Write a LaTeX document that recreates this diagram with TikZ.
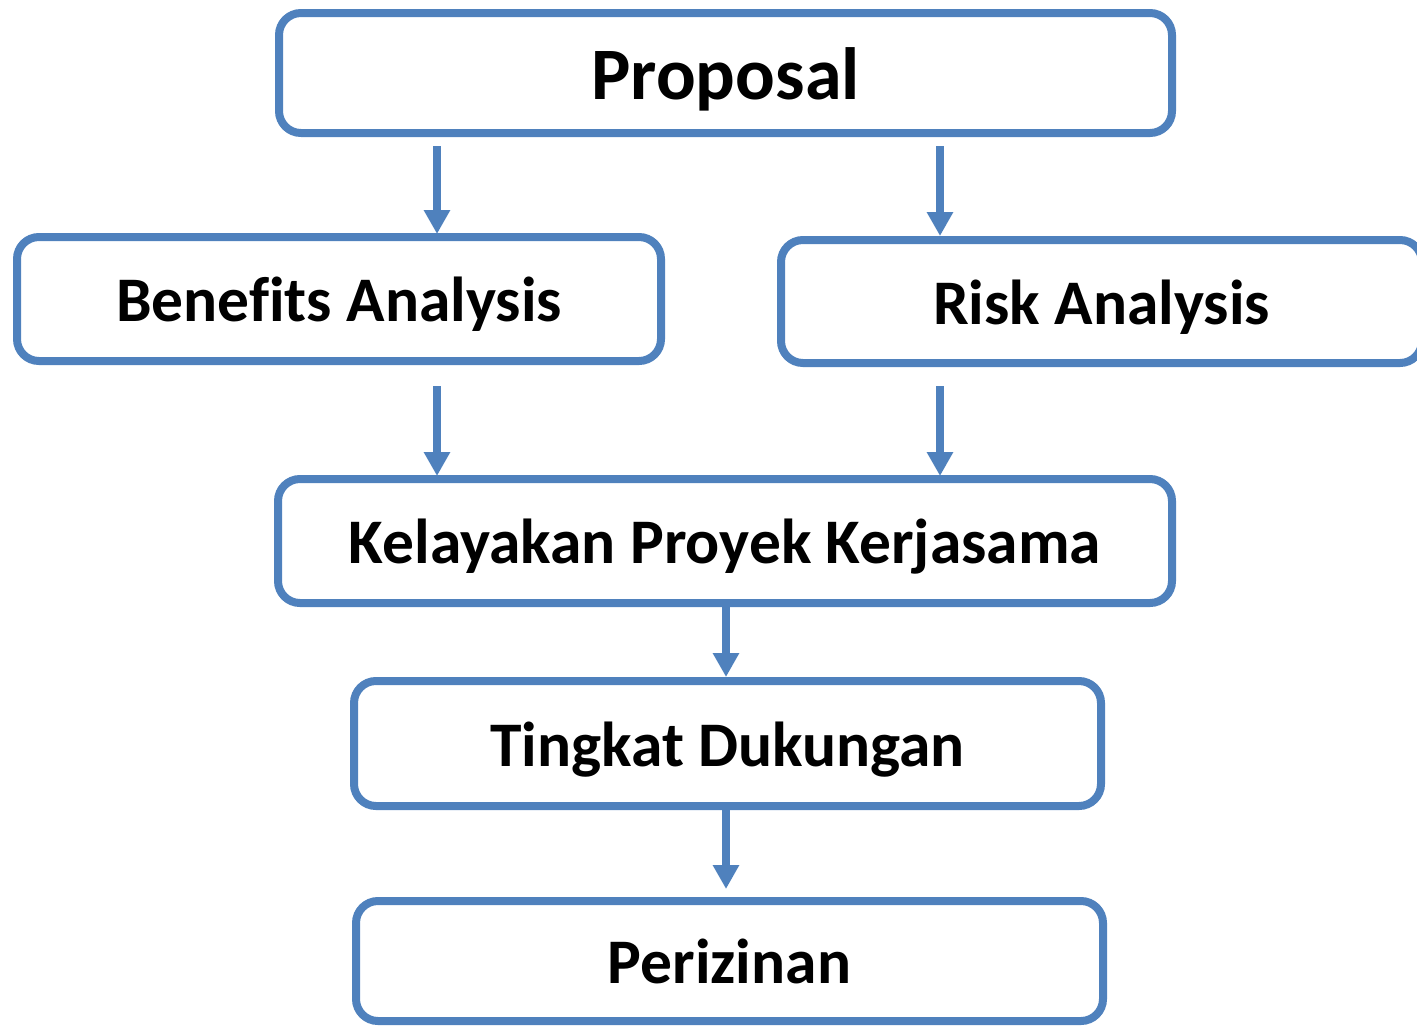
\documentclass[tikz,border=0pt]{standalone}
\usepackage{fontspec}
\setmainfont[Ligatures=NoCommon]{Carlito}
\usetikzlibrary{arrows.meta}
\definecolor{boxblue}{HTML}{4F81BD}
\begin{document}
\begin{tikzpicture}[x=1pt,y=-1pt,
  box/.style={draw=boxblue,line width=8pt,rounded corners=22pt,inner sep=0pt,
    font=\fontsize{63.5}{70}\selectfont\bfseries,text height=45.9pt,text depth=0pt},
  bigbox/.style={box,font=\fontsize{74}{80}\selectfont\bfseries,text height=52.6pt},
  conn/.style={draw=boxblue,line width=8pt,-{Triangle[width=25pt,length=24pt]}}]
\useasboundingbox (0,0) rectangle (1417,1026);
\node[bigbox,minimum width=893pt,minimum height=120pt] (prop) at (725.5,73) {Proposal};
\node[box,minimum width=644pt,minimum height=124pt] (ben) at (339,299) {Benefits Analysis};
\node[box,minimum width=641pt,minimum height=123pt] (risk) at (1101.5,301.5) {Risk Analysis};
\node[box,minimum width=894pt,minimum height=124pt] (kel) at (725,541) {Kelayakan Proyek Kerjasama};
\node[box,minimum width=747pt,minimum height=125pt] (ting) at (727.5,743.5) {Tingkat Dukungan};
\node[box,minimum width=747pt,minimum height=120pt] (per) at (729.5,961) {Perizinan};
\draw[conn,shorten <=9pt,shorten >=-1pt] (prop.south -| 437,0) -- (ben.north -| 437,0);
\draw[conn,shorten <=9pt,shorten >=0pt] (prop.south -| 940,0) -- (risk.north -| 940,0);
\draw[conn,shorten <=21pt,shorten >=-1pt] (ben.south -| 437,0) -- (kel.north -| 437,0);
\draw[conn,shorten <=19pt,shorten >=-1pt] (risk.south -| 940,0) -- (kel.north -| 940,0);
\draw[conn,shorten >=0pt] (kel.south -| 726,0) -- (ting.north -| 726,0);
\draw[conn,shorten >=8pt] (ting.south -| 726,0) -- (per.north -| 726,0);
\end{tikzpicture}
\end{document}
